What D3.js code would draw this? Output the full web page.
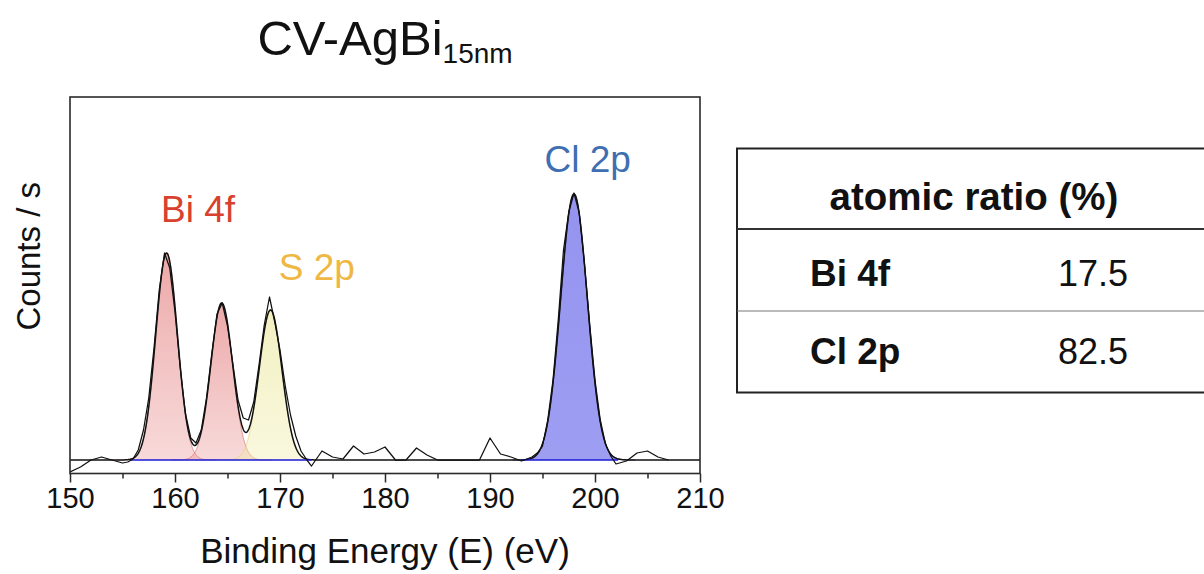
<!DOCTYPE html>
<html>
<head>
<meta charset="utf-8">
<script src="https://cdn.jsdelivr.net/npm/d3@7"></script>
<style>
  html, body { margin: 0; padding: 0; background: #fff; overflow: hidden; }
  svg { display: block; }
  text { font-family: "Liberation Sans", Arial, Helvetica, sans-serif; }
</style>
</head>
<body>
<svg id="chart" width="1204" height="574"></svg>
<script>
// ---- measured spectrum (binding energy in eV, counts above background) ----
const rawEnergy = [150, 151, 152, 153, 154, 155, 155.5, 156, 156.5, 157, 157.5, 158, 158.5, 159, 159.5,
  160, 160.5, 161, 161.5, 162, 162.5, 163, 163.5, 164, 164.5, 165, 165.5, 166, 166.5, 167, 167.5,
  168, 168.5, 169, 169.5, 170, 170.5, 171, 171.5, 172, 172.5, 173, 174, 175, 176, 177, 178, 179,
  180, 181, 182, 183, 184, 185, 186, 187, 188, 189, 190, 191, 192, 193, 193.5, 194, 194.5, 195,
  195.5, 196, 196.5, 197, 197.5, 198, 198.5, 199, 199.5, 200, 200.5, 201, 201.5, 202, 203, 204,
  205, 206, 207];
const rawCounts = [-12, -7, 0, 3, 0, -3, -2, 1, 10, 30, 62, 112, 170, 207, 192,
  148, 92, 46, 22, 17, 30, 62, 106, 146, 157, 134, 97, 60, 42, 40, 58,
  95, 135, 163, 138, 110, 74, 45, 24, 9, 1, -6, 9, 3, 1, 14, 6, 8,
  13, 0, 0, 12, 5, 0, 0, 0, 0, 0, 22, 6, 3, -1, 1, 3, 7, 14,
  40, 80, 140, 210, 248, 267, 247, 196, 135, 80, 40, 16, 4, -4, -1, 7,
  9, 3, 0];

// ---- fitted components ----
const peakGroup   = ["Bi", "Bi", "S", "Cl"];
const peakCenter  = [159.2, 164.45, 169.1, 198.0];
const peakHeight  = [207, 157, 150, 266];
const peakFwhm    = [2.43, 2.45, 2.54, 2.99];

// background ranges used by the fit
const bgStart = [155.8, 193.0];
const bgEnd   = [173.0, 202.2];

// ---- axis ticks ----
const majorTicks = [150, 160, 170, 180, 190, 200, 210];
const minorTicks = [155, 165, 175, 185, 195, 205];

// ---- peak labels ----
const labelText = ["Bi 4f", "S 2p", "Cl 2p"];

// ---- quantification table ----
const tableHeader = "atomic ratio (%)";
const tableElements = ["Bi 4f", "Cl 2p"];
const tableRatios = [17.5, 82.5];

// =====================================================================
const svg = d3.select("#chart");
const frame = { left: 70, right: 700, top: 97, bottom: 473.5 };

const x = d3.scaleLinear().domain([150, 210]).range([frame.left, frame.right]);
const y = d3.scaleLinear().domain([-13.5, 363]).range([frame.bottom, frame.top]);

const defs = svg.append("defs");
defs.append("clipPath").attr("id", "plotClip")
  .append("rect")
  .attr("x", frame.left).attr("y", frame.top)
  .attr("width", frame.right - frame.left).attr("height", frame.bottom - frame.top);

// fill gradients for each element group
const groupStyle = {
  Bi: { top: "rgb(222,96,96)",  topOp: 0.55, bot: "rgb(228,120,120)", botOp: 0.28, stroke: "rgba(214,110,110,0.7)" },
  S:  { top: "rgb(232,228,140)", topOp: 0.55, bot: "rgb(238,234,160)", botOp: 0.35, stroke: "rgba(225,210,120,0.7)" },
  Cl: { top: "rgb(88,88,232)",  topOp: 0.64, bot: "rgb(92,92,234)",  botOp: 0.6, stroke: "rgba(20,20,110,0.9)" }
};
Object.entries(groupStyle).forEach(([k, s]) => {
  const g = defs.append("linearGradient").attr("id", "grad" + k)
    .attr("x1", 0).attr("y1", 0).attr("x2", 0).attr("y2", 1);
  g.append("stop").attr("offset", "0%").attr("stop-color", s.top).attr("stop-opacity", s.topOp);
  g.append("stop").attr("offset", "100%").attr("stop-color", s.bot).attr("stop-opacity", s.botOp);
});

const gauss = (e, i) => {
  const s = peakFwhm[i] / 2.3548;
  return peakHeight[i] * Math.exp(-((e - peakCenter[i]) ** 2) / (2 * s * s));
};

const plot = svg.append("g").attr("clip-path", "url(#plotClip)");

// component areas
peakCenter.forEach((c, i) => {
  const s = peakFwhm[i] / 2.3548;
  const pts = d3.range(c - 4.6 * s, c + 4.6 * s + 0.001, 0.04).map(e => [e, gauss(e, i)]);
  const area = d3.area().x(d => x(d[0])).y0(y(0)).y1(d => y(d[1]));
  const line = d3.line().x(d => x(d[0])).y(d => y(d[1]));
  const st = groupStyle[peakGroup[i]];
  plot.append("path").attr("d", area(pts)).attr("fill", `url(#grad${peakGroup[i]})`);
  plot.append("path").attr("d", line(pts)).attr("fill", "none")
    .attr("stroke", st.stroke).attr("stroke-width", 0.9);
});

// fit envelope over the full range (sits on the zero line away from peaks)
const envPts = d3.range(150, 210.001, 0.04).map(e => [e, d3.sum(peakCenter, (_, i) => gauss(e, i))]);
plot.append("path")
  .attr("d", d3.line().x(d => x(d[0])).y(d => y(d[1]))(envPts))
  .attr("fill", "none").attr("stroke", "#111").attr("stroke-width", 1.5);

// fit background lines
bgStart.forEach((b, i) => {
  plot.append("line")
    .attr("x1", x(b)).attr("x2", x(bgEnd[i]))
    .attr("y1", y(0)).attr("y2", y(0))
    .attr("stroke", "#1a1ad6").attr("stroke-width", 1.6);
});

// raw data
const rawPts = rawEnergy.map((e, i) => [e, rawCounts[i]]);
plot.append("path")
  .attr("d", d3.line().x(d => x(d[0])).y(d => y(d[1]))(rawPts))
  .attr("fill", "none").attr("stroke", "#111").attr("stroke-width", 1.25)
  .attr("stroke-linejoin", "round");

// frame
svg.append("rect")
  .attr("x", frame.left).attr("y", frame.top)
  .attr("width", frame.right - frame.left).attr("height", frame.bottom - frame.top)
  .attr("fill", "none").attr("stroke", "#2a2a2a").attr("stroke-width", 1.6);

// x axis
const axMajor = svg.append("g").attr("transform", `translate(0,${frame.bottom})`)
  .call(d3.axisBottom(x).tickValues(majorTicks).tickSize(9).tickPadding(5).tickFormat(d3.format("d")));
const axMinor = svg.append("g").attr("transform", `translate(0,${frame.bottom})`)
  .call(d3.axisBottom(x).tickValues(minorTicks).tickSize(5).tickFormat(""));
[axMajor, axMinor].forEach(a => {
  a.select(".domain").remove();
  a.selectAll(".tick line").attr("stroke", "#2a2a2a").attr("stroke-width", 1.5);
});
axMajor.selectAll(".tick text")
  .attr("fill", "#111").style("font-size", "29px")
  .style("font-family", "'Liberation Sans', Arial, Helvetica, sans-serif");

// axis titles
svg.append("text")
  .attr("x", (frame.left + frame.right) / 2).attr("y", 563)
  .attr("text-anchor", "middle").attr("fill", "#111").style("font-size", "35px")
  .text("Binding Energy (E) (eV)");
svg.append("text")
  .attr("transform", `translate(40,${(frame.top + frame.bottom) / 2 - 29}) rotate(-90)`)
  .attr("text-anchor", "middle").attr("fill", "#111").style("font-size", "33px")
  .text("Counts / s");

// title with subscript
const title = svg.append("text")
  .attr("x", 385).attr("y", 55)
  .attr("text-anchor", "middle").attr("fill", "#111").style("font-size", "49px");
title.append("tspan").text("CV-AgBi");
title.append("tspan").attr("dy", 8).style("font-size", "28px").text("15nm");

// peak labels
const labelColors = ["#d8412e", "#efb743", "#3f6fb3"];
const labelPos = [[162.2, 238], [173.5, 180], [199.3, 288]];
labelText.forEach((t, i) => {
  svg.append("text")
    .attr("x", x(labelPos[i][0])).attr("y", y(labelPos[i][1]))
    .attr("text-anchor", "middle").attr("fill", labelColors[i])
    .style("font-size", "37px").text(t);
});

// quantification table
const tb = svg.append("g");
const tLeft = 737, tTop = 148.5, tBottom = 392.5, tRight = 1260;
const rowY = [tTop, 229, 311, tBottom];
tb.append("rect")
  .attr("x", tLeft).attr("y", tTop).attr("width", tRight - tLeft).attr("height", tBottom - tTop)
  .attr("fill", "none").attr("stroke", "#222").attr("stroke-width", 2);
tb.append("line").attr("x1", tLeft).attr("x2", tRight).attr("y1", rowY[1]).attr("y2", rowY[1])
  .attr("stroke", "#333").attr("stroke-width", 1.8);
tb.append("line").attr("x1", tLeft).attr("x2", tRight).attr("y1", rowY[2]).attr("y2", rowY[2])
  .attr("stroke", "#777").attr("stroke-width", 1);
tb.append("text")
  .attr("x", 974).attr("y", 210)
  .attr("text-anchor", "middle").attr("fill", "#111")
  .style("font-size", "38.5px").style("font-weight", "bold")
  .text(tableHeader);
const fmt = d3.format(".1f");
tableElements.forEach((el, i) => {
  const base = [285.5, 363.5][i];
  tb.append("text").attr("x", 810).attr("y", base)
    .attr("fill", "#111").style("font-size", "37px").style("font-weight", "bold").text(el);
  tb.append("text").attr("x", 1093).attr("y", base).attr("text-anchor", "middle")
    .attr("fill", "#111").style("font-size", "36px").text(fmt(tableRatios[i]));
});
</script>
</body>
</html>
